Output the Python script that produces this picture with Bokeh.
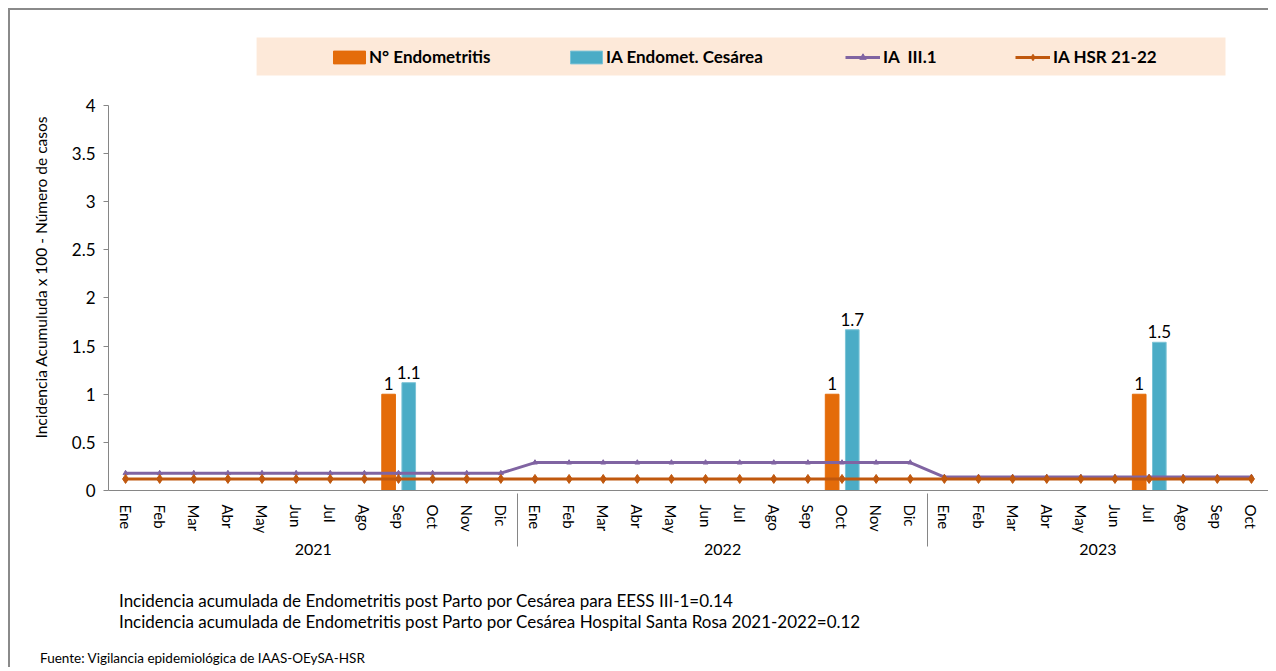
from bokeh.plotting import figure
from bokeh.layouts import column
from bokeh.models import (FactorRange, Range1d, FixedTicker, Legend, LegendItem,
                          Title, Div, BoxAnnotation, ColumnDataSource)
from bokeh.transform import dodge
from bokeh.embed import file_html
from bokeh.resources import INLINE

FONT = "Lato"

# ---------------- data ----------------
years = ["2021", "2022", "2023"]
month_names = ["Ene", "Feb", "Mar", "Abr", "May", "Jun", "Jul", "Ago", "Sep", "Oct", "Nov", "Dic"]
months_per_year = [12, 12, 10]

ia_iii1 = [0.18, 0.18, 0.18, 0.18, 0.18, 0.18, 0.18, 0.18, 0.18, 0.18, 0.18, 0.18,
           0.29, 0.29, 0.29, 0.29, 0.29, 0.29, 0.29, 0.29, 0.29, 0.29, 0.29, 0.29,
           0.14, 0.14, 0.14, 0.14, 0.14, 0.14, 0.14, 0.14, 0.14, 0.14]
ia_hsr = [0.12, 0.12, 0.12, 0.12, 0.12, 0.12, 0.12, 0.12, 0.12, 0.12, 0.12, 0.12,
          0.12, 0.12, 0.12, 0.12, 0.12, 0.12, 0.12, 0.12, 0.12, 0.12, 0.12, 0.12,
          0.12, 0.12, 0.12, 0.12, 0.12, 0.12, 0.12, 0.12, 0.12, 0.12]

bar_x = [("2021", "Sep"), ("2022", "Oct"), ("2023", "Jul")]
n_endometritis = [1, 1, 1]
ia_cesarea = [1.12, 1.67, 1.54]

y_ticks = [0, 0.5, 1, 1.5, 2, 2.5, 3, 3.5, 4]
y_tick_labels = ["0", "0.5", "1", "1.5", "2", "2.5", "3", "3.5", "4"]

series_names = ["N° Endometritis", "IA Endomet. Cesárea", "IA  III.1", "IA HSR 21-22"]
y_title = "Incidencia Acumuluda x 100 - Número de casos"
notes = ["Incidencia acumulada de Endometritis post Parto por Cesárea para EESS III-1=0.14",
         "Incidencia acumulada de Endometritis post Parto por Cesárea Hospital Santa Rosa 2021-2022=0.12"]
source_note = "Fuente: Vigilancia epidemiológica de IAAS-OEySA-HSR"

C_ORANGE = "#E46C0A"
C_BLUE = "#4BACC6"
C_PURPLE = "#8064A2"
C_BROWN = "#C0580E"

# ---------------- main figure ----------------
factors = []
for yr, n in zip(years, months_per_year):
    for m in month_names[:n]:
        factors.append((yr, m))

x_range = FactorRange(*factors, range_padding=0, factor_padding=0,
                      group_padding=0, subgroup_padding=0)

p = figure(x_range=x_range, y_range=Range1d(0, 4.883),
           width=1258, height=565, output_backend="svg", toolbar_location=None,
           min_border_left=98, min_border_right=0, min_border_top=10, min_border_bottom=85)
p.outline_line_color = None
p.grid.visible = False
p.background_fill_color = "white"
p.border_fill_color = "white"

# legend background box
p.add_layout(BoxAnnotation(left=4.34, right=32.74, bottom=4.312, top=4.706,
                           fill_color="#FDE9D9", fill_alpha=1, line_color=None,
                           level="underlay"))

bar_src = ColumnDataSource(dict(x=bar_x, n=n_endometritis, ia=ia_cesarea,
                                nl=[str(v) for v in n_endometritis],
                                il=[f"{v:.1f}" for v in ia_cesarea]))
r_n = p.vbar(x=dodge("x", -0.29, range=x_range), top="n", width=0.40, source=bar_src,
             fill_color=C_ORANGE, line_color=C_ORANGE)
r_c = p.vbar(x=dodge("x", 0.30, range=x_range), top="ia", width=0.40, source=bar_src,
             fill_color=C_BLUE, line_color="#7CC3D6")
p.text(x=dodge("x", -0.29, range=x_range), y="n", text="nl", source=bar_src,
       text_align="center", text_baseline="bottom", y_offset=-4,
       text_font={"value": FONT}, text_font_size="17px", text_color="#000000")
p.text(x=dodge("x", 0.30, range=x_range), y="ia", text="il", source=bar_src,
       text_align="center", text_baseline="bottom", y_offset=-4,
       text_font={"value": FONT}, text_font_size="17px", text_color="#000000")

line_src = ColumnDataSource(dict(x=factors, ia3=ia_iii1, hsr=ia_hsr))
l1 = p.line("x", "ia3", source=line_src, line_color=C_PURPLE, line_width=3)
s1 = p.scatter("x", "ia3", source=line_src, marker="triangle", size=5,
               fill_color=C_PURPLE, line_color=C_PURPLE)
l2 = p.line("x", "hsr", source=line_src, line_color=C_BROWN, line_width=3)
s2 = p.scatter("x", "hsr", source=line_src, marker="diamond", size=9,
               fill_color=C_BROWN, line_color=C_BROWN)

# axes
yax = p.yaxis[0]
yax.bounds = (0, 4)
yax.ticker = FixedTicker(ticks=y_ticks)
yax.major_label_overrides = {t: s for t, s in zip(y_ticks, y_tick_labels)}
yax.axis_line_color = "#868686"
yax.major_tick_line_color = "#868686"
yax.major_tick_in = 0
yax.major_tick_out = 5
yax.minor_tick_line_color = None
yax.major_label_text_font = FONT
yax.major_label_text_font_size = "17px"
yax.major_label_text_color = "#000000"
yax.major_label_standoff = 8

xax = p.xaxis[0]
xax.axis_line_color = "#868686"
xax.major_tick_line_color = None
xax.minor_tick_line_color = None
xax.major_label_orientation = "vertical"
xax.major_label_standoff = 8
xax.major_label_text_font = FONT
xax.major_label_text_font_size = "15px"
xax.major_label_text_color = "#000000"
xax.group_text_font = FONT
xax.group_text_font_size = "16px"
xax.group_text_font_style = "normal"
xax.group_text_color = "#000000"
xax.separator_line_color = "#868686"
xax.separator_line_width = 1

# legends (one per item, placed individually)
leg_specs = [(series_names[0], [r_n], 221, 40, 0),
             (series_names[1], [r_c], 458, 40, 0),
             (series_names[2], [l1, s1], 737, 35, 3),
             (series_names[3], [l2, s2], 907, 35, 3)]
for name, rends, lx, gw, so in leg_specs:
    lg = Legend(items=[LegendItem(label=name, renderers=rends)], location=(lx, 423),
                orientation="horizontal", padding=0, margin=0, spacing=0,
                glyph_width=gw, glyph_height=16, label_standoff=so,
                background_fill_alpha=0, border_line_color=None,
                label_text_font=FONT, label_text_font_style="bold",
                label_text_font_size="17px", label_text_color="#000000")
    p.add_layout(lg)

# y-axis title
p.add_layout(Title(text=y_title, align="left", offset=52, standoff=38,
                   text_font=FONT, text_font_size="15.5px", text_font_style="normal",
                   text_color="#000000"), "left")

# ---------------- notes panel ----------------
html = (
    '<div style="position:relative;width:1258px;height:92px;font-family:Lato;color:#000000;">'
    f'<div style="position:absolute;left:109px;top:16px;font-size:17px;line-height:20px;white-space:nowrap;">{notes[0]}</div>'
    f'<div style="position:absolute;left:109px;top:37px;font-size:17px;line-height:20px;white-space:nowrap;">{notes[1]}</div>'
    f'<div style="position:absolute;left:30px;top:75px;font-size:13.5px;line-height:16px;white-space:nowrap;">{source_note}</div>'
    '</div>'
)
notes_div = Div(text=html, width=1258, height=92, margin=(0, 0, 0, 0))

layout = column(p, notes_div, spacing=0)
layout.styles = {"margin-top": "8px", "margin-left": "8px",
                 "border-top": "2px solid #8a8a8a", "border-left": "2px solid #8a8a8a"}

open("out.html", "w").write(file_html(layout, INLINE))
